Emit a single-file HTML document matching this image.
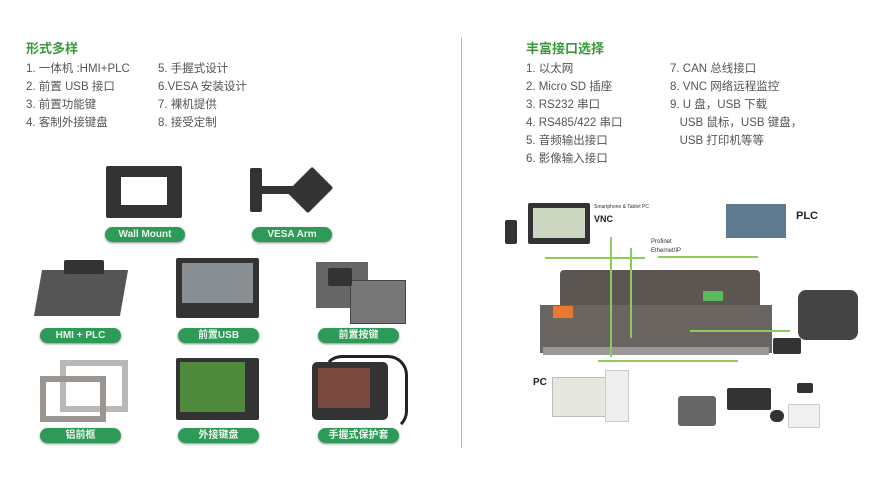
<!DOCTYPE html><html><head><meta charset="utf-8"><style>
body{margin:0;width:890px;height:486px;background:#fff;position:relative;overflow:hidden;font-family:"Liberation Sans","Noto Sans CJK SC",sans-serif}
.a{position:absolute}
.t{color:#3a9a3a;font-weight:bold;font-size:13px}
.l{color:#555;font-size:11.5px;line-height:18px;white-space:pre}
.p{position:absolute;height:15px;border-radius:8px;background:#2e9a58;color:#e8f5ec;font-size:10px;font-weight:bold;text-align:center;line-height:15px;box-shadow:0 1px 2px #888}
.k{position:absolute;background:#333;border-radius:2px}
.g{position:absolute;background:#8ccc5a}
</style></head><body>
<div class="a t" style="left:26px;top:38px">形式多样</div>
<div class="a l" style="left:26px;top:60px">1. 一体机 :HMI+PLC
2. 前置 USB 接口
3. 前置功能键
4. 客制外接键盘</div>
<div class="a l" style="left:158px;top:60px">5. 手握式设计
6.VESA 安装设计
7. 裸机提供
8. 接受定制</div>
<div class="a" style="left:461px;top:38px;width:1px;height:410px;background:#8fcf8f"></div>

<div class="k" style="left:106px;top:166px;width:76px;height:52px"></div>
<div class="a" style="left:121px;top:177px;width:46px;height:28px;background:#fff"></div>
<div class="p" style="left:105px;top:227px;width:80px">Wall Mount</div>
<div class="k" style="left:250px;top:168px;width:12px;height:44px"></div>
<div class="k" style="left:260px;top:186px;width:35px;height:8px"></div>
<div class="k" style="left:295px;top:172px;width:30px;height:36px;transform:rotate(45deg)"></div>
<div class="p" style="left:252px;top:227px;width:80px">VESA Arm</div>

<div class="a" style="left:38px;top:270px;width:86px;height:46px;background:#555;transform:skewX(-10deg)"></div>
<div class="k" style="left:64px;top:260px;width:40px;height:14px"></div>
<div class="p" style="left:40px;top:328px;width:81px">HMI + PLC</div>
<div class="k" style="left:176px;top:258px;width:83px;height:60px"></div>
<div class="a" style="left:182px;top:263px;width:71px;height:40px;background:#8a8f94"></div>
<div class="p" style="left:178px;top:328px;width:81px">前置USB</div>
<div class="a" style="left:316px;top:262px;width:52px;height:46px;background:#666"></div>
<div class="a" style="left:350px;top:280px;width:54px;height:42px;background:#777;border:1px solid #444"></div>
<div class="k" style="left:328px;top:268px;width:24px;height:18px"></div>
<div class="p" style="left:318px;top:328px;width:81px">前置按键</div>

<div class="a" style="left:60px;top:360px;width:56px;height:40px;border:6px solid #b8b8b8"></div>
<div class="a" style="left:40px;top:376px;width:54px;height:34px;border:6px solid #9a9590"></div>
<div class="p" style="left:40px;top:428px;width:81px">铝前框</div>
<div class="k" style="left:176px;top:358px;width:83px;height:62px"></div>
<div class="a" style="left:180px;top:362px;width:65px;height:50px;background:#4f8a3c"></div>
<div class="p" style="left:178px;top:428px;width:81px">外接键盘</div>
<div class="k" style="left:312px;top:362px;width:76px;height:58px;border-radius:5px"></div>
<div class="a" style="left:318px;top:368px;width:52px;height:40px;background:#7a4a40"></div>
<div class="a" style="left:322px;top:355px;width:80px;height:70px;border:3px solid #222;border-radius:20px;border-left-color:transparent;border-bottom-color:transparent"></div>
<div class="p" style="left:318px;top:428px;width:81px">手握式保护套</div>

<div class="a t" style="left:526px;top:38px">丰富接口选择</div>
<div class="a l" style="left:526px;top:60px">1. 以太网
2. Micro SD 插座
3. RS232 串口
4. RS485/422 串口
5. 音频输出接口
6. 影像输入接口</div>
<div class="a l" style="left:670px;top:60px">7. CAN 总线接口
8. VNC 网络远程监控
9. U 盘，USB 下载
   USB 鼠标，USB 键盘，
   USB 打印机等等</div>

<div class="k" style="left:505px;top:220px;width:12px;height:24px"></div>
<div class="k" style="left:528px;top:203px;width:62px;height:41px"></div>
<div class="a" style="left:533px;top:208px;width:52px;height:30px;background:#ccd6c0"></div>
<div class="a" style="left:594px;top:204px;font-size:5px;color:#333;z-index:2">Smartphone &amp; Tablet PC</div>
<div class="a" style="left:594px;top:214px;font-size:9px;font-weight:bold;color:#222;z-index:2">VNC</div>
<div class="a" style="left:726px;top:204px;width:60px;height:34px;background:#5f7a8e"></div>
<div class="a" style="left:796px;top:210px;font-size:11px;font-weight:bold;color:#222">PLC</div>
<div class="a" style="left:651px;top:238px;font-size:6px;color:#333;line-height:9px">Profinet<br>Ethernet/IP</div>
<div class="a" style="left:560px;top:270px;width:200px;height:70px;background:#5b5652;border-radius:4px"></div>
<div class="a" style="left:540px;top:305px;width:232px;height:48px;background:#6a6561"></div>
<div class="a" style="left:543px;top:347px;width:226px;height:8px;background:#999"></div>
<div class="a" style="left:553px;top:306px;width:20px;height:12px;background:#e87a30"></div>
<div class="a" style="left:703px;top:291px;width:20px;height:10px;background:#5cb85c"></div>
<div class="g" style="left:545px;top:257px;width:100px;height:2px"></div>
<div class="g" style="left:610px;top:237px;width:2px;height:120px"></div>
<div class="g" style="left:630px;top:248px;width:2px;height:90px"></div>
<div class="g" style="left:658px;top:256px;width:100px;height:2px"></div>
<div class="g" style="left:598px;top:360px;width:140px;height:2px"></div>
<div class="g" style="left:690px;top:330px;width:100px;height:2px"></div>
<div class="k" style="left:798px;top:290px;width:60px;height:50px;border-radius:8px;background:#444"></div>
<div class="k" style="left:773px;top:338px;width:28px;height:16px"></div>
<div class="a" style="left:533px;top:377px;font-size:10px;font-weight:bold;color:#222">PC</div>
<div class="a" style="left:552px;top:377px;width:55px;height:38px;background:#e6e8e0;border:1px solid #bbb"></div>
<div class="a" style="left:605px;top:370px;width:22px;height:50px;background:#eee;border:1px solid #ccc"></div>
<div class="a" style="left:678px;top:396px;width:38px;height:30px;background:#666;border-radius:3px"></div>
<div class="k" style="left:727px;top:388px;width:44px;height:22px"></div>
<div class="k" style="left:770px;top:410px;width:14px;height:12px;border-radius:7px"></div>
<div class="a" style="left:788px;top:404px;width:30px;height:22px;background:#f0f0f0;border:1px solid #ccc"></div>
<div class="k" style="left:797px;top:383px;width:16px;height:10px"></div>
</body></html>
